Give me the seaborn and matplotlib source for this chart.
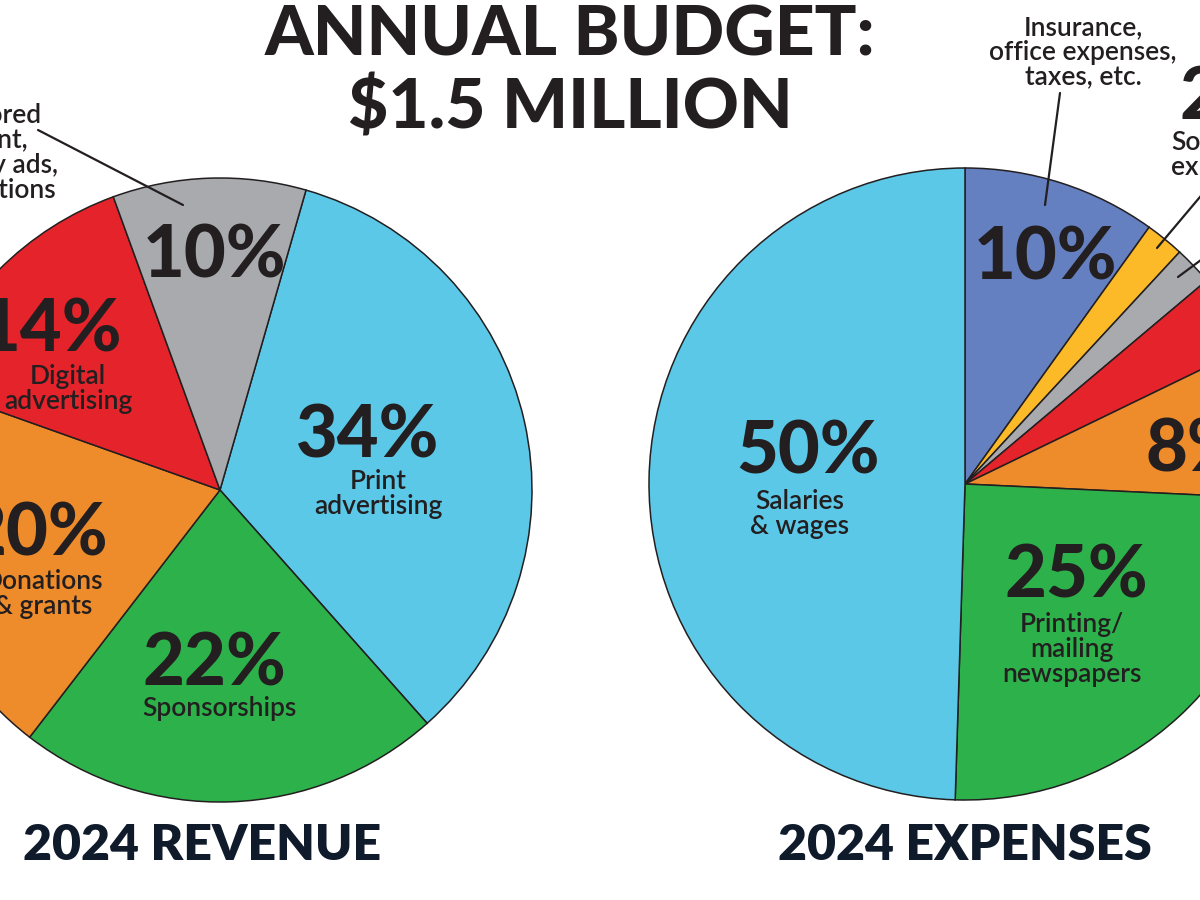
import matplotlib
matplotlib.use("Agg")
import matplotlib.pyplot as plt
import seaborn as sns

# revenue, clockwise from the gray/blue edge
rev_names = ["Print\nadvertising", "Sponsorships", "Donations\n& grants",
             "Digital\nadvertising", "Sponsored\ncontent,\ndirectory ads,\nsubscriptions"]
rev_pct = [34, 22, 20, 14, 10]
rev_colors = ["#5bc8e8", "#2db24b", "#ee8b2b", "#e5232b", "#a9aaad"]

# expenses, clockwise from 12 o'clock (rounded, so they add to 101)
exp_names = ["Insurance,\noffice expenses,\ntaxes, etc.", "Software\nexpenses",
             "Other", "Other", "Other", "Printing/\nmailing\nnewspapers", "Salaries\n& wages"]
exp_pct = [10, 2, 2, 4, 8, 25, 50]
exp_colors = ["#6480c1", "#fcb928", "#a9aaad", "#e5232b", "#ee8b2b", "#2db24b", "#5bc8e8"]

title = "ANNUAL BUDGET:\n$1.5 MILLION"
rev_title = "2024 REVENUE"
exp_title = "2024 EXPENSES"

sns.set_theme(style="white")
plt.rcParams["font.family"] = ["Lato", "DejaVu Sans"]
ink = "#231f20"

fig = plt.figure(figsize=(12, 9), dpi=100)
ax = fig.add_axes([0, 0, 1, 1])

wedge = dict(edgecolor=ink, linewidth=1.1)

# y axis is flipped below, so counterclock=True reads clockwise on screen
ax.pie(rev_pct, colors=rev_colors, startangle=-74, counterclock=True,
       center=(220, 490), radius=312, wedgeprops=wedge)
ax.pie(exp_pct, colors=exp_colors, startangle=-90, counterclock=True,
       center=(965, 484), radius=316, wedgeprops=wedge)

ax.set_xlim(0, 1200)
ax.set_ylim(900, 0)
ax.set_aspect("equal")
ax.axis("off")

big = dict(fontsize=52, fontweight="black", color=ink, ha="center", va="baseline")
small = dict(fontsize=19, fontweight="semibold", color=ink, ha="center", va="baseline")


def stack(x, y, name, **kw):
    for i, ln in enumerate(name.split("\n")):
        ax.text(x, y + i * 25, ln, **{**small, **kw})


# revenue labels
rev_pct_pos = [(368, 457), (214, 686), (36, 556), (50, 352), (214, 277)]
rev_name_pos = [(378, 489), (219, 716), (43, 589), (68, 384), None]
for v, name, pp, npos in zip(rev_pct, rev_names, rev_pct_pos, rev_name_pos):
    ax.text(pp[0], pp[1], f"{v}%", **big)
    if npos:
        stack(npos[0], npos[1], name)

stack(-21, 123, rev_names[4])
ax.plot([38, 183], [130, 205], color=ink, lw=1.6)

# expense labels
ax.text(1045, 280, f"{exp_pct[0]}%", **big)
ax.text(808, 474, f"{exp_pct[6]}%", **big)
ax.text(1076, 598, f"{exp_pct[5]}%", **big)
ax.text(1145, 471, f"{exp_pct[4]}%", **{**big, "ha": "left"})
ax.text(1180, 120, f"{exp_pct[1]}%", **{**big, "ha": "left"})

stack(800, 509, exp_names[6])
stack(1072, 632, exp_names[5])
stack(1083, 35, exp_names[0])
stack(1171, 150, exp_names[1], ha="left")

ax.plot([1060, 1045], [93, 205], color=ink, lw=1.6)
ax.plot([1157, 1205], [248, 191], color=ink, lw=1.6)
ax.plot([1178, 1205], [277, 257], color=ink, lw=1.6)

# titles
for i, ln in enumerate(title.split("\n")):
    ax.text(570, 55 + i * 73, ln, fontsize=50, fontweight="black", color=ink,
            ha="center", va="baseline")
ax.text(202, 860, rev_title, fontsize=36, fontweight="heavy", color="#0f1a2b",
        ha="center", va="baseline")
ax.text(965, 860, exp_title, fontsize=36, fontweight="heavy", color="#0f1a2b",
        ha="center", va="baseline")

fig.savefig("out.png", dpi=100, facecolor="white")
